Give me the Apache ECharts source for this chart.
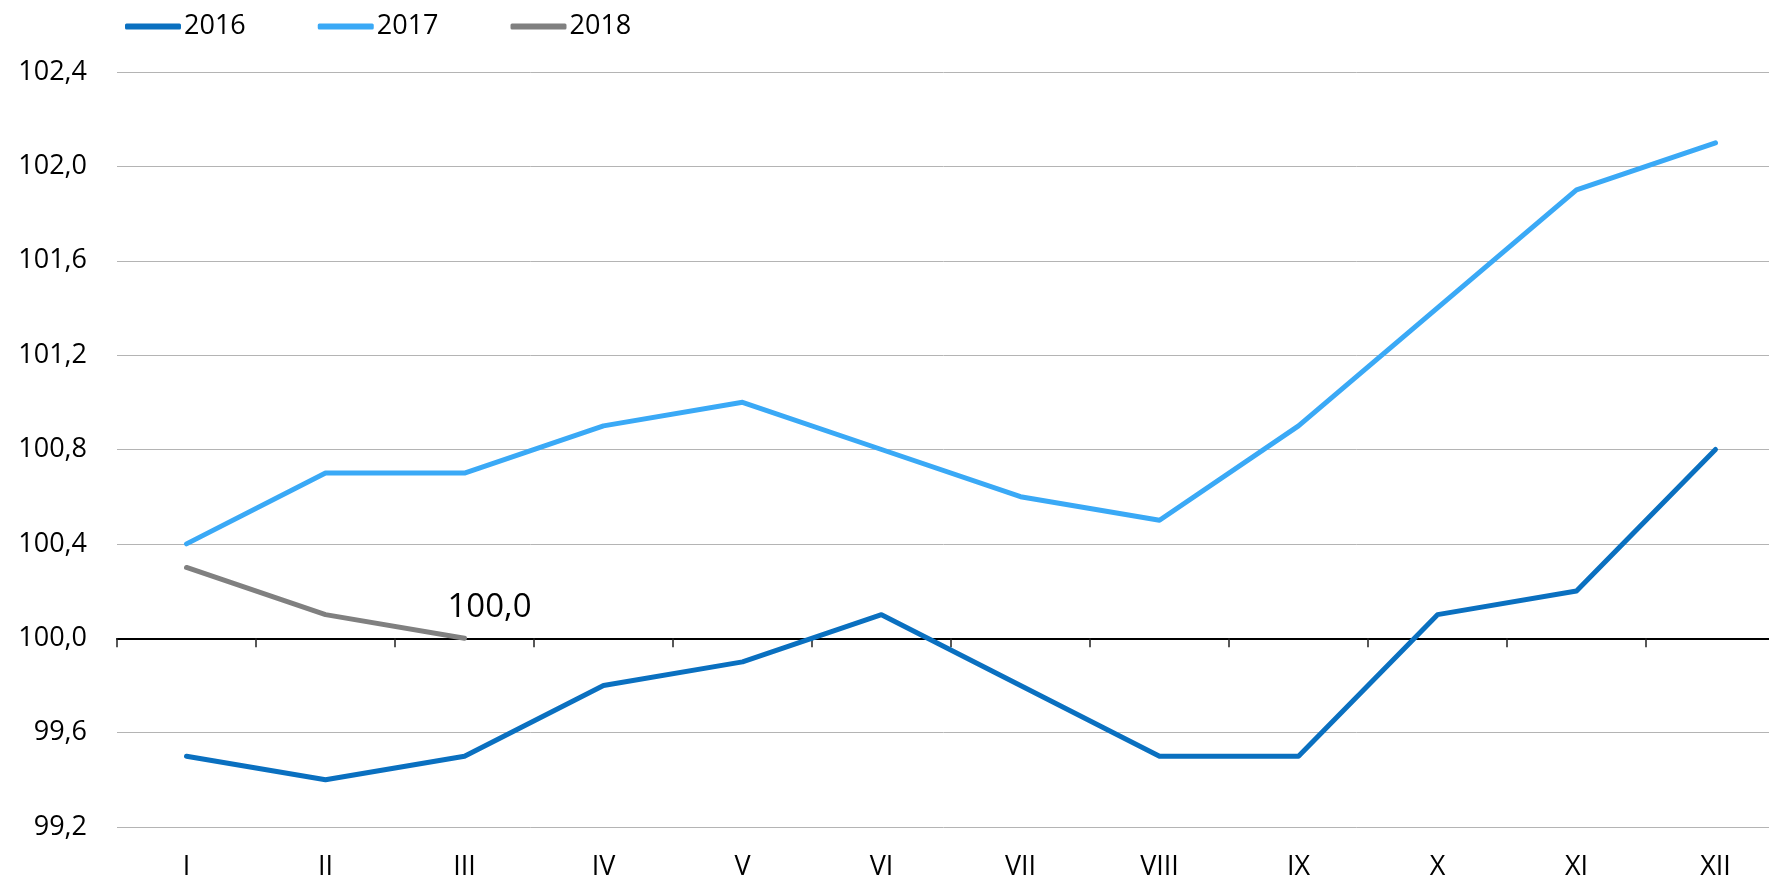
<!DOCTYPE html>
<html lang="en">

<head>
    <meta charset="UTF-8">
    <title></title>
    <style>
        html,
        body {
            height: 100%;
            width: 100%;
            margin: 0;
            padding: 0;
            background: #fff;
        }
    </style>
</head>

<body>
    <div id="main" style="width: 1769px;height:880px;"></div>
    <script src="https://cdn.jsdelivr.net/npm/echarts@6/dist/echarts.min.js"></script>
    <script type="text/javascript">
        var months = ['I', 'II', 'III', 'IV', 'V', 'VI', 'VII', 'VIII', 'IX', 'X', 'XI', 'XII'];
        var y2016 = [99.5, 99.4, 99.5, 99.8, 99.9, 100.1, 99.8, 99.5, 99.5, 100.1, 100.2, 100.8];
        var y2017 = [100.4, 100.7, 100.7, 100.9, 101.0, 100.8, 100.6, 100.5, 100.9, 101.4, 101.9, 102.1];
        var y2018 = [100.3, 100.1, 100.0];
        var yMin = 99.2, yMax = 102.4, yStep = 0.4, baseLine = 100;

        var gridTop = 72, gridBottom = 53;
        var gridHeight = 880 - gridTop - gridBottom;
        var font = 'Open Sans';

        function comma(v) {
            return Number(v).toFixed(1).replace('.', ',');
        }

        var myChart = echarts.init(document.getElementById('main'));
        var option = {
            animation: false,
            textStyle: { fontFamily: font },
            legend: {
                left: 120,
                top: 8,
                itemWidth: 56,
                itemHeight: 6,
                itemGap: 72,
                icon: 'roundRect',
                textStyle: { fontSize: 27, color: '#000', fontFamily: font, padding: [0, 0, 0, -2] },
                data: ['2016', '2017', '2018']
            },
            grid: {
                left: 117,
                top: gridTop,
                width: 1668,
                height: gridHeight,
                outerBoundsMode: 'none'
            },
            xAxis: [{
                type: 'category',
                data: months,
                position: 'bottom',
                axisLine: { show: false },
                axisTick: { show: false },
                axisLabel: { fontSize: 27, color: '#000', margin: 27, fontFamily: font }
            }, {
                // axis line drawn at 100,0
                type: 'category',
                data: months,
                position: 'bottom',
                offset: -gridHeight * (baseLine - yMin) / (yMax - yMin),
                axisLine: { show: true, lineStyle: { color: '#000', width: 2 } },
                axisTick: { show: true, interval: 0, length: 9, lineStyle: { color: '#222', width: 1.5 } },
                axisLabel: { show: false }
            }],
            yAxis: {
                type: 'value',
                min: yMin,
                max: yMax,
                interval: yStep,
                axisLine: { show: false },
                axisTick: { show: false },
                axisLabel: {
                    fontSize: 27,
                    color: '#000',
                    margin: 30,
                    fontFamily: font,
                    formatter: comma
                },
                splitLine: { lineStyle: { color: '#b4b4b4', width: 1 } }
            },
            series: [{
                name: '2016',
                type: 'line',
                symbol: 'none',
                color: '#0a70c0',
                lineStyle: { width: 5, cap: 'round', join: 'round' },
                data: y2016
            }, {
                name: '2017',
                type: 'line',
                symbol: 'none',
                color: '#3aa9f6',
                lineStyle: { width: 5, cap: 'round', join: 'round' },
                data: y2017
            }, {
                name: '2018',
                type: 'line',
                symbol: 'none',
                color: '#808080',
                lineStyle: { width: 5, cap: 'round', join: 'round' },
                endLabel: {
                    show: true,
                    distance: 0,
                    offset: [-17, -31],
                    fontSize: 33,
                    color: '#000',
                    fontFamily: font,
                    formatter: function (p) { return comma(p.value); }
                },
                data: y2018
            }]
        };
        myChart.setOption(option);
        window.addEventListener("resize", function () {
            myChart.resize();
        });
    </script>
</body>

</html>
